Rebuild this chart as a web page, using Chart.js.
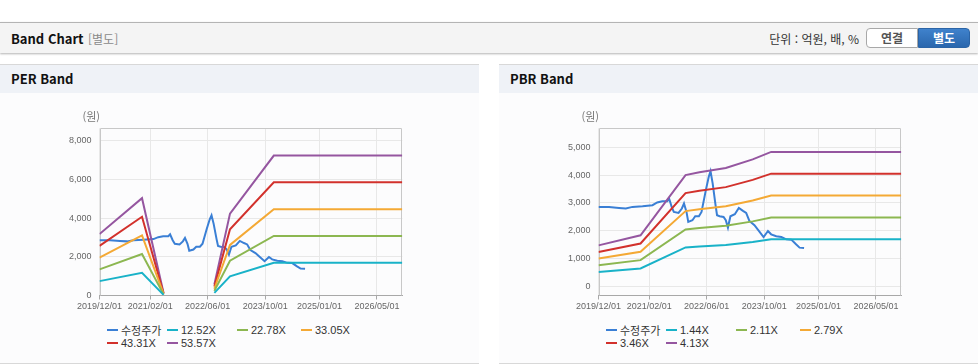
<!DOCTYPE html>
<html lang="ko">
<head>
<meta charset="UTF-8">
<title>Band Chart</title>
<script src="https://cdn.jsdelivr.net/npm/chart.js"></script>
<style>
    body { margin: 0; width: 978px; height: 364px; overflow: hidden; position: relative; background: #fff;
           font-family: "Noto Sans CJK KR", "Open Sans", sans-serif; }
    .topbar { position: absolute; left: 0; top: 22px; width: 978px; height: 30px; background: #f4f4f4;
              border-top: 1px solid #b4b4b4; box-shadow: 0 1px 2px rgba(0,0,0,0.3); }
    .topbar .title { position: absolute; left: 11px; top: 6px; font-size: 13px; font-weight: bold; color: #111; }
    .topbar .sub { position: absolute; left: 88px; top: 7px; font-size: 12px; color: #8a8a8a; }
    .topbar .unit { position: absolute; right: 119px; top: 7px; font-size: 12px; color: #333; }
    .btn { position: absolute; top: 5px; height: 18px; line-height: 18px; font-size: 12px; font-weight: bold; text-align: center; }
    .btn.off { left: 866px; width: 50px; background: #fff; color: #555; border: 1px solid #a8a8a8; border-radius: 4px 0 0 4px; }
    .btn.on { left: 918px; width: 50px; background: linear-gradient(#3f82cc, #2a67ad); color: #fff; border: 1px solid #2b64a6; border-radius: 0 4px 4px 0; }
    .panel { position: absolute; top: 64px; width: 479px; height: 298px; background: #fcfcfd;
             border-top: 1px solid #d8d8d8; border-bottom: 1px solid #d8d8d8; }
    .panel .head { height: 28px; background: #eff2f7; font-size: 13px; font-weight: bold; color: #111;
                   padding-left: 11px; line-height: 28px; }
    .panel canvas { position: absolute; left: 0; top: 28px; }
    .legend { position: absolute; left: 107px; top: 258px; display: grid;
              grid-template-columns: 60px 70px 64px 64px; font: 11px "Liberation Sans", "Noto Sans CJK KR", sans-serif; color: #333; }
    .legend .item { display: flex; align-items: center; height: 13.3px; white-space: nowrap; }
    .legend .sym { width: 11px; height: 2px; margin-right: 3px; }
</style>
</head>
<body>
    <div class="topbar">
        <span class="title">Band Chart</span>
        <span class="sub">[별도]</span>
        <span class="unit">단위 : 억원, 배, %</span>
        <div class="btn off">연결</div>
        <div class="btn on">별도</div>
    </div>

    <div class="panel" style="left:0">
        <div class="head">PER Band</div>
        <canvas id="perChart" width="479" height="225"></canvas>
        <div class="legend" id="perLegend"></div>
    </div>
    <div class="panel" style="left:499px">
        <div class="head">PBR Band</div>
        <canvas id="pbrChart" width="479" height="225"></canvas>
        <div class="legend" id="pbrLegend"></div>
    </div>

<script>
// 수정주가 (same for both charts)
const priceDates = ['2019-12-01', '2020-02-28', '2020-05-22', '2020-07-19', '2020-09-13', '2020-12-07', '2021-03-01',
    '2021-04-10', '2021-05-22', '2021-07-04', '2021-07-19', '2021-08-10', '2021-08-28', '2021-10-07', '2021-11-04',
    '2021-11-22', '2021-12-13', '2021-12-28', '2022-02-01', '2022-02-25', '2022-03-28', '2022-04-19', '2022-05-25',
    '2022-06-19', '2022-07-04', '2022-07-22', '2022-08-16', '2022-08-28', '2022-09-19', '2022-10-22', '2022-11-10',
    '2022-11-28', '2022-12-19', '2023-01-25', '2023-02-28', '2023-04-04', '2023-05-01', '2023-05-28', '2023-07-10',
    '2023-08-16', '2023-09-25', '2023-11-01', '2023-11-28', '2024-01-10', '2024-02-22', '2024-04-04', '2024-05-16',
    '2024-06-25', '2024-07-25', '2024-09-01'];
const priceValues = [2855, 2855, 2819, 2797, 2855, 2880, 2916,
    3014, 3061, 3061, 3159, 2855, 2674, 2638, 2797,
    2978, 2674, 2313, 2374, 2519, 2519, 2674, 3450,
    3939, 4140, 3701, 2900, 2555, 2519, 2494, 2374,
    2110, 2519, 2591, 2819, 2711, 2638, 2349, 2194,
    1988, 1771, 1988, 1868, 1796, 1771, 1688, 1676,
    1507, 1388, 1376];

// PER band
const perNames = ['12.52X', '22.78X', '33.05X', '43.31X', '53.57X'];
const perBandDates = ['2019-12-01', '2020-11-24', '2021-05-25', '2021-06-01', '2022-07-28', '2022-12-07', '2023-12-12', '2026-12-01'];
const per1252 = [742, 1176, 31, null, 133, 989, 1690, 1690];
const per2278 = [1351, 2139, 57, null, 241, 1800, 3075, 3075];
const per3305 = [1960, 3103, 83, null, 350, 2611, 4462, 4462];
const per4331 = [2568, 4067, 108, null, 459, 3421, 5847, 5847];
const per5357 = [3177, 5030, 134, null, 568, 4232, 7232, 7232];
const perYTicks = [0, 2000, 4000, 6000, 8000];

// PBR band
const pbrNames = ['1.44X', '2.11X', '2.79X', '3.46X', '4.13X'];
const pbrBandDates = ['2019-12-01', '2020-11-20', '2021-12-05', '2022-04-01', '2022-11-10', '2023-06-25', '2023-11-28', '2026-12-01'];
const pbr144 = [513, 639, 1395, 1430, 1485, 1593, 1686, 1686];
const pbr211 = [751, 937, 2045, 2095, 2175, 2334, 2471, 2471];
const pbr279 = [993, 1239, 2704, 2770, 2876, 3086, 3267, 3267];
const pbr346 = [1232, 1536, 3353, 3436, 3567, 3827, 4052, 4052];
const pbr413 = [1470, 1834, 4002, 4101, 4258, 4568, 4836, 4836];
const pbrYTicks = [0, 1000, 2000, 3000, 4000, 5000];

const xTickDates = ['2019/12/01', '2021/02/01', '2022/06/01', '2023/10/01', '2025/01/01', '2026/05/01'];

const priceColor = '#3a7fd5';
const bandColors = ['#19b2c8', '#8cb751', '#f4a935', '#d2312c', '#9556a0'];

Chart.defaults.font.family = '"Liberation Sans", "Noto Sans CJK KR", sans-serif';
Chart.defaults.font.size = 9;
Chart.defaults.color = '#666';

function toTime(s) {
    return Date.parse(s.replace(/\//g, '-'));
}

function toPoints(dates, values) {
    return dates.map((d, i) => ({ x: toTime(d), y: values[i] }));
}

function fmtDate(v) {
    const d = new Date(v);
    return d.getUTCFullYear() + '/' + String(d.getUTCMonth() + 1).padStart(2, '0') + '/' + String(d.getUTCDate()).padStart(2, '0');
}

const framePlugin = {
    id: 'frame',
    beforeDatasetsDraw(chart) {
        const a = chart.chartArea;
        const ctx = chart.ctx;
        ctx.save();
        ctx.strokeStyle = '#c8c8c8';
        ctx.lineWidth = 1;
        ctx.beginPath();
        ctx.moveTo(Math.round(a.left) + 0.5, a.bottom);
        ctx.lineTo(Math.round(a.left) + 0.5, Math.round(a.top) + 0.5);
        ctx.lineTo(Math.round(a.right) - 0.5, Math.round(a.top) + 0.5);
        ctx.lineTo(Math.round(a.right) - 0.5, a.bottom);
        ctx.stroke();
        ctx.fillStyle = '#777';
        ctx.font = '11px "Noto Sans CJK KR", sans-serif';
        ctx.textBaseline = 'middle';
        ctx.fillText('(원)', a.left - 17, a.top - 11);
        ctx.restore();
    }
};

function makeChart(id, legendId, names, bandDates, bands, yTicks, yMin, yMax) {
    const datasets = [{
        label: '수정주가',
        data: toPoints(priceDates, priceValues),
        borderColor: priceColor,
        order: 1
    }];
    bands.forEach((vals, i) => {
        datasets.push({
            label: names[i],
            data: toPoints(bandDates, vals),
            borderColor: bandColors[i],
            order: 0
        });
    });

    new Chart(document.getElementById(id), {
        type: 'line',
        data: { datasets: datasets },
        options: {
            responsive: false,
            animation: false,
            devicePixelRatio: 1,
            layout: { padding: { left: 0, right: 76.7, top: 35.3, bottom: 0 } },
            elements: {
                line: { borderWidth: 2, tension: 0 },
                point: { radius: 0 }
            },
            plugins: { legend: { display: false }, tooltip: { enabled: false } },
            scales: {
                x: {
                    type: 'linear',
                    min: toTime('2019-12-01'),
                    max: toTime('2026-12-01'),
                    afterBuildTicks: s => { s.ticks = xTickDates.map(d => ({ value: toTime(d) })); },
                    afterFit: s => { s.height = 22.5; },
                    ticks: { autoSkip: false, maxRotation: 0, padding: 2, callback: v => fmtDate(v) },
                    grid: { color: '#e8e8e8', tickLength: 4, tickColor: '#a8a8a8' },
                    border: { color: '#a8a8a8' }
                },
                y: {
                    min: yMin,
                    max: yMax,
                    afterBuildTicks: s => { s.ticks = yTicks.map(v => ({ value: v })); },
                    afterFit: s => { s.width = 99.5; },
                    ticks: { padding: 8, callback: v => v.toLocaleString('en-US') },
                    grid: { color: '#e8e8e8', drawTicks: false },
                    border: { display: false }
                }
            }
        },
        plugins: [framePlugin]
    });

    const legend = document.getElementById(legendId);
    datasets.forEach(ds => {
        const item = document.createElement('div');
        item.className = 'item';
        item.innerHTML = '<span class="sym" style="background:' + ds.borderColor + '"></span>' + ds.label;
        legend.appendChild(item);
    });
}

makeChart('perChart', 'perLegend', perNames, perBandDates, [per1252, per2278, per3305, per4331, per5357], perYTicks, 0, 8640);
makeChart('pbrChart', 'pbrLegend', pbrNames, pbrBandDates, [pbr144, pbr211, pbr279, pbr346, pbr413], pbrYTicks, -336, 5686);
</script>
</body>
</html>
